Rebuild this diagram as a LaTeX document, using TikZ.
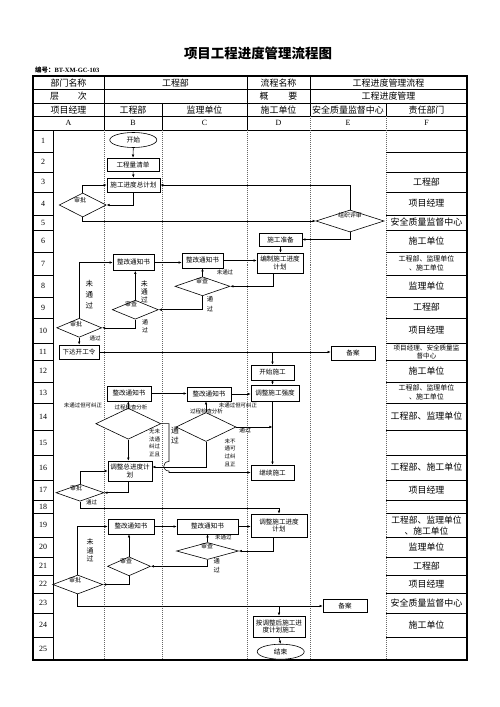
\documentclass[tikz,border=0pt]{standalone}
\usepackage{fontspec}
\setmainfont{Liberation Serif}
\newfontfamily\cjk{Noto Sans CJK SC}
\newcommand\myfs[2]{\cjk\fontsize{#1}{#2}\selectfont}
\usetikzlibrary{shapes.geometric,arrows.meta,calc}
\tikzset{
 arr/.style={line width=0.55pt, draw=black, -{Latex[length=3.2pt,width=2.6pt]}},
 bx/.style 2 args={draw=black, fill=white, line width=0.6pt, rectangle, inner sep=0.3pt, minimum width=#1bp, minimum height=#2bp, align=center, font=\myfs{6.6}{7.8}},
 dm/.style 2 args={draw=black, fill=white, line width=0.6pt, diamond, inner sep=0pt, minimum width=#1bp, minimum height=#2bp},
 el/.style 2 args={draw=black, fill=white, line width=0.6pt, ellipse, inner sep=0pt, minimum width=#1bp, minimum height=#2bp, font=\myfs{6.8}{8}},
 lab/.style={inner sep=0pt, align=center},
 dtx/.style={inner sep=0pt, font=\myfs{6}{7}},
 sml/.style={inner sep=0pt, font=\myfs{5.5}{6.5}},
 hd/.style={inner sep=0pt, font=\myfs{9}{10}},
 fcell/.style={inner sep=0pt, align=center, font=\myfs{9}{10}},
 fsmall/.style={inner sep=0pt, align=center, font=\myfs{7}{9.5}},
 num/.style={inner sep=0pt, font=\fontsize{8}{9}\selectfont},
 grid/.style={line width=0.6pt, draw=black},
 dotl/.style={line width=0.5pt, draw=black!60, dash pattern=on 0.8pt off 1.2pt},
}
\begin{document}
\begin{tikzpicture}[x=1bp,y=-1bp]
\fill[white] (0,0) rectangle (500,707);
\useasboundingbox (0,0) rectangle (500,707);

% title
\node[inner sep=0pt, font=\cjk\bfseries\fontsize{13.5}{15}\selectfont] (title) at (258,53) {项目工程进度管理流程图};
\node[anchor=west, inner sep=0pt, font=\fontsize{6.5}{7}\selectfont\bfseries] (code) at (35,70) {{\cjk 编号：}BT-XM-GC-103};

% header grid
\foreach \y in {89.5,103,116.5,130} \draw[grid] (33,\y) -- (467,\y);
\foreach \x in {104,247,310} \draw[grid] (\x,76) -- (\x,103);
\foreach \x in {104,162,247,310,386} \draw[grid] (\x,103) -- (\x,116.5);
\foreach \x in {104,162,247} \draw[grid] (\x,116.5) -- (\x,130);
\foreach \x in {310,386} \draw[dotl] (\x,116.5) -- (\x,130);

% body grid
\foreach \x in {104,162,247,310,386} \draw[dotl] (\x,130) -- (\x,660);
\draw[grid] (53,130) -- (53,660);
\foreach \y in {152,172,192,215,230,252,275,297,318,343,360,382,403,430,455,480,500,513,537,557,575,593,613,637}
  {\draw[grid] (33,\y) -- (53,\y); \draw[grid] (386,\y) -- (467,\y);}
\draw[line width=1.3pt] (33,76) rectangle (467,660);

% header text
\node[hd] (h11) at (68.5,82.75) {部门名称};
\node[hd] (h12) at (175.5,82.75) {工程部};
\node[hd] (h13) at (278.5,82.75) {流程名称};
\node[hd] (h14) at (388.5,82.75) {工程进度管理流程};
\node[hd] (h21) at (68.5,96.25) {层\hspace{19pt}次};
\node[hd] (h23) at (278.5,96.25) {概\hspace{20pt}要};
\node[hd] (h24) at (388.5,96.25) {工程进度管理};
\node[hd] (h31) at (68.5,109.75) {项目经理};
\node[hd] (h32) at (133,109.75) {工程部};
\node[hd] (h33) at (204.5,109.75) {监理单位};
\node[hd] (h34) at (278.5,109.75) {施工单位};
\node[hd] (h35) at (348,109.75) {安全质量监督中心};
\node[hd] (h36) at (426.5,109.75) {责任部门};
\node[num] (hA) at (68.5,123.25) {A};
\node[num] (hB) at (133,123.25) {B};
\node[num] (hC) at (204.5,123.25) {C};
\node[num] (hD) at (278.5,123.25) {D};
\node[num] (hE) at (348,123.25) {E};
\node[num] (hF) at (426.5,123.25) {F};

% row numbers
\foreach \n/\y in {1/141,2/162,3/182,4/203.5,5/222.5,6/241,7/263.5,8/286,9/307.5,10/330.5,11/351.5,12/371,13/392.5,14/416.5,15/442.5,16/467.5,17/490,18/506.5,19/525,20/547,21/566,22/584,23/603,24/625,25/648.5}
  \node[num] (rn\n) at (43,\y) {\n};

% F column
\node[fcell] (f3) at (426.5,182) {工程部};
\node[fcell] (f4) at (426.5,203.5) {项目经理};
\node[fcell] (f5) at (426.5,222.5) {安全质量监督中心};
\node[fcell] (f6) at (426.5,241) {施工单位};
\node[fsmall] (f7) at (426.5,263.5) {工程部、监理单位\\、施工单位};
\node[fcell] (f8) at (426.5,286) {监理单位};
\node[fcell] (f9) at (426.5,307.5) {工程部};
\node[fcell] (f10) at (426.5,330.5) {项目经理};
\node[fsmall, font=\myfs{6.6}{8}] (f11) at (426.5,351.5) {项目经理、安全质量监\\督中心};
\node[fcell] (f12) at (426.5,371) {施工单位};
\node[fsmall] (f13) at (426.5,392.5) {工程部、监理单位\\、施工单位};
\node[fcell] (f14) at (426.5,416.5) {工程部、监理单位};
\node[fcell] (f16) at (426.5,467.5) {工程部、施工单位};
\node[fcell] (f17) at (426.5,490) {项目经理};
\node[fcell, font=\myfs{8.8}{11.5}] (f19) at (426.5,525.5) {工程部、监理单位\\、施工单位};
\node[fcell] (f20) at (426.5,547) {监理单位};
\node[fcell] (f21) at (426.5,566) {工程部};
\node[fcell] (f22) at (426.5,584) {项目经理};
\node[fcell] (f23) at (426.5,603) {安全质量监督中心};
\node[fcell] (f24) at (426.5,625) {施工单位};

% flow nodes
\node[el={47}{15}] (start) at (133.3,140) {开始};
\node[bx={52}{13}] (n2) at (133,164.5) {工程量清单};
\node[bx={53}{14}] (n3) at (133.5,185) {施工进度总计划};
\node[dm={47}{24}] (d4) at (82.7,205) {};
\node[dm={68}{22}] (d5) at (350,221) {};
\node[bx={43}{13}] (n6) at (280.5,239.5) {施工准备};
\node[bx={46}{20}] (n7) at (280,263) {编制施工进度\\计划};
\node[bx={41}{15}] (n7c) at (202.5,260.5) {整改通知书};
\node[bx={41}{16}] (n7b) at (133.5,262.5) {整改通知书};
\node[dm={55}{19}] (d8) at (202.5,286.3) {};
\node[dm={46}{19}] (d9) at (135.3,309.7) {};
\node[dm={45}{19}] (d10) at (79.2,327.8) {};
\node[bx={40}{14}] (n11) at (79,352) {下达开工令};
\node[bx={44}{14}] (n11e) at (353,353) {备案};
\node[bx={43}{15}] (n12) at (272.5,372.5) {开始施工};
\node[bx={48}{16}] (n13d) at (275,393) {调整施工强度};
\node[bx={44}{15}] (n13b) at (129,393.5) {整改通知书};
\node[bx={44}{14}] (n13c) at (209,394) {整改通知书};
\node[dm={65}{31}] (d14b) at (128.3,423.7) {};
\node[dm={60}{29}] (d14c) at (206,427) {};
\node[bx={43}{15}] (n16d) at (272.5,472.5) {继续施工};
\node[bx={44}{20}] (n16b) at (130,471) {调整总进度计\\划};
\node[dm={48}{17}] (d17) at (80,492.7) {};
\node[bx={56}{23}] (n19d) at (279,525.5) {调整施工进度\\计划};
\node[bx={46}{15}] (n19b) at (131,526.5) {整改通知书};
\node[bx={61}{15}] (n19c) at (207.5,526.5) {整改通知书};
\node[dm={62}{17}] (d20) at (207.5,551) {};
\node[dm={43}{19}] (d21) at (129,566.3) {};
\node[dm={50}{19}] (d22) at (77.7,584.5) {};
\node[bx={44}{13.5}] (n23) at (345,606) {备案};
\node[bx={52}{21}] (n24) at (279,626.5) {按调整后施工进\\度计划施工};
\node[el={47}{15}] (fin) at (280.7,651.7) {结束};

% diamond texts
\node[dtx] (t4) at (80,200) {审批};
\node[dtx] (t5) at (350,215.5) {组织评审};
\node[dtx] (t8) at (202,281) {审查};
\node[dtx] (t9) at (131,304.5) {审查};
\node[dtx] (t10) at (76,324) {审批};
\node[dtx] (t17) at (76,488.5) {审批};
\node[dtx] (t20) at (207,546.5) {审查};
\node[dtx] (t21) at (126,561.5) {审查};
\node[dtx] (t22) at (75,580) {审批};

% connectors
\draw[arr] (start.south) -- (n2.north);
\draw[arr] (n2.south) -- (n3.north);
\draw[arr] (n3.south) |- (d4.east);
\draw[arr] (d4.north) |- (n3.west);
\draw[arr] (d4.south) |- (d5.west);
\draw[arr] (d5.north) |- (n3.east);
\draw[arr] (d5.south) |- (n6.east);
\draw[arr] (n6.south) -- (n6.south |- n7.north);
\draw[arr] ($(n7.south)+(-7,0)$) |- (d8.east);
\draw[arr] (d8.north) -- (n7c.south);
\draw[arr] (n7c.east) -- (n7c.east -| n7.west);
\draw[arr] (n7b.east) -- (n7b.east -| n7c.west);
\draw[arr] (d8.south) |- (d9.east);
\draw[arr] (d9.north) -- (d9.north |- n7b.south);
\draw[arr] (d9.south) |- (d10.east);
\draw[arr] (d10.north) |- (n7b.west);
\draw[arr] (d10.south) -- (d10.south |- n11.north);
\draw[arr] (n11.east) -- (n11.east -| n11e.west);
\coordinate (j1) at (n12.north |- n11.east);
\draw[arr] (j1) -- (n12.north);
\draw[arr] (n12.south) -- (n12.south |- n13d.north);
\draw[arr] (n12.south |- n13d.south) -- (n12.south |- n16d.north);
\draw[arr] (n13b.east) -- (n13b.east -| n13c.west);
\draw[arr] (n13c.east) -- (n13c.east -| n13d.west);
\draw[arr] (d14b.north) -- (d14b.north |- n13b.south);
\draw[arr] (d14c.north) -- (d14c.north |- n13c.south);
\draw[arr] (d14c.east) -- (d14c.east -| n16d.north);
\draw[arr] (d14b.south) -- (d14b.south |- n16b.north);
\draw[arr] (d14c.south) |- ($(n16b.east)+(0,-4)$);
\draw[arr] (d14b.east) -| (169,461.5) .. controls (162,461.5) and (162,471) .. (169,471) |- (n16d.west);
\draw[arr] ($(n16b.south)+(-1.7,0)$) |- (d17.east);
\draw[arr] (d17.north) |- (n16b.west);
\draw[arr] (d17.south) -- ++(0,6.5) -| (n19d.north);
\draw[arr] (n19b.east) -- (n19b.east -| n19c.west);
\draw[arr] (n19c.east) -- (n19c.east -| n19d.west);
\draw[arr] ($(n19d.south)+(-5.7,0)$) |- (d20.east);
\draw[arr] (d20.north) -- (n19c.south);
\draw[arr] (d20.south) |- (d21.east);
\draw[arr] (d21.north) -- (d21.north |- n19b.south);
\draw[arr] (d21.south) |- (d22.east);
\draw[arr] (d22.north) |- (n19b.west);
\draw[arr] (d22.south) |- (n23.west);
\coordinate (j2) at (n24.north |- n23.west);
\draw[arr] (j2) -- (n24.north);
\draw[arr] (n24.south) -- (fin.north);

% connector labels
\node[lab, font=\myfs{7.5}{11}] (l1) at (89.3,295) {未\\通\\过};
\node[lab, font=\myfs{7}{8.2}] (l2) at (144.3,291.5) {未\\通\\过};
\node[lab, font=\myfs{6.3}{9.5}] (l3) at (210,304) {通\\过};
\node[lab, font=\myfs{6}{8.3}] (l4) at (145,326) {通\\过};
\node[sml] (l5) at (225,272.7) {未通过};
\node[sml] (l6) at (95,338.5) {通过};
\node[sml] (l7) at (83,405.7) {未通过但可纠正};
\node[sml] (l8) at (238,405.7) {未通过但可纠正};
\node[sml] (l9) at (131,407.5) {过程检查分析};
\node[sml] (l10) at (206.5,411.5) {过程检查分析};
\node[lab, font=\myfs{6}{7}] (l11) at (245,430) {通过};
\node[lab, font=\myfs{7.8}{10}] (l12) at (175,436) {通\\过};
\node[lab, font=\myfs{5.5}{7.6}] (l13) at (154.5,443) {无未\\法通\\纠过\\正且};
\node[lab, font=\myfs{5.5}{7.6}] (l14) at (230,452.5) {未不\\通可\\过纠\\且正};
\node[sml] (l15) at (91.7,502) {通过};
\node[sml] (l16) at (223.3,537.7) {未通过};
\node[lab, font=\myfs{6.3}{9}] (l17) at (216.7,565.5) {通\\过};
\node[lab, font=\myfs{7}{8.8}] (l18) at (90,550.3) {未\\通\\过};
\end{tikzpicture}
\end{document}
